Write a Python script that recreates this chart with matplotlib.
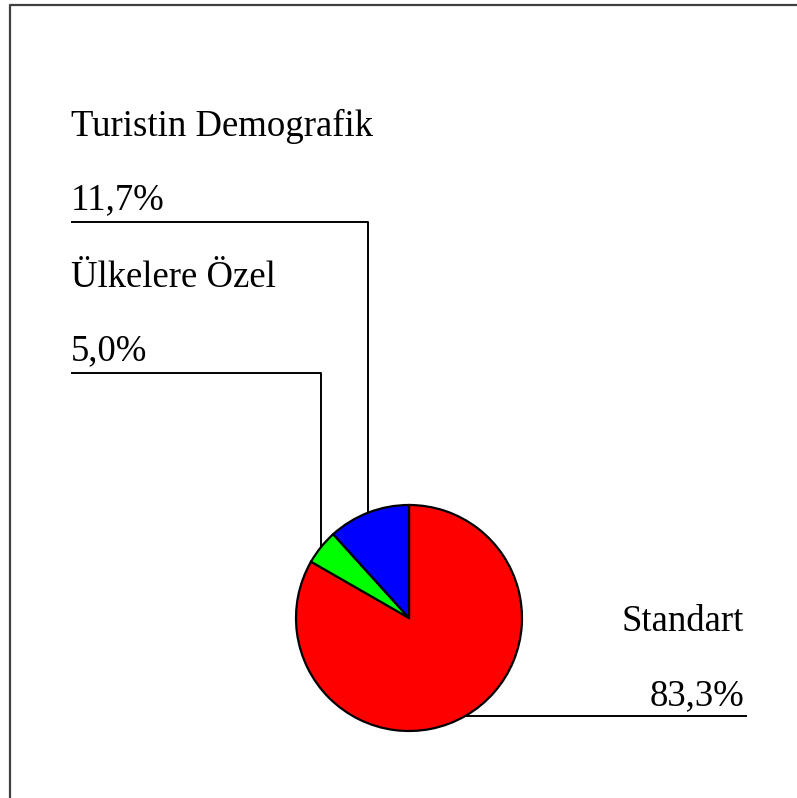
import numpy as np
import matplotlib
matplotlib.use("Agg")
import matplotlib.pyplot as plt

# ── Data ─────────────────────────────────────────────────────────────────────
labels = ["Standart", "Ülkelere Özel", "Turistin Demografik"]
values = [83.3, 5.0, 11.7]
pct_text = ["83,3%", "5,0%", "11,7%"]
colors = ["#ff0000", "#00ff00", "#0000ff"]

W, H = 797, 798
plt.rcParams['font.family'] = ['Liberation Serif', 'DejaVu Serif']

fig = plt.figure(figsize=(W / 100, H / 100), dpi=100)
ax = fig.add_axes([0, 0, 1, 1])

cx, cy, r = 409, H - 618, 113
wedges, _ = ax.pie(values, colors=colors, startangle=90, counterclock=False,
                   center=(cx, cy), radius=r, frame=True,
                   wedgeprops=dict(edgecolor='black', linewidth=1.6))
ax.set_xlim(0, W)
ax.set_ylim(0, H)
ax.set_aspect('auto')
ax.axis('off')

# ── Leader lines + labels ────────────────────────────────────────────────────
fs = 26.5
lw = 1.4
for i, w in enumerate(wedges):
    mid = np.deg2rad((w.theta1 + w.theta2) / 2)
    px = cx + r * np.cos(mid)
    py = cy + r * np.sin(mid)
    if i == 0:
        # right side: horizontal straight out
        ly = py
        ax.plot([px, 746], [ly, ly], color='black', lw=lw)
        ax.text(744, ly + 11, pct_text[i], fontsize=fs, ha='right', va='baseline')
        ax.text(744, ly + 85, labels[i], fontsize=fs, ha='right', va='baseline')
    else:
        ly = H - (373 if i == 1 else 222)
        ax.plot([px, px, 72], [py, ly, ly], color='black', lw=lw)
        ax.text(71, ly + 13, pct_text[i], fontsize=fs, ha='left', va='baseline')
        ax.text(71, ly + 86, labels[i], fontsize=fs, ha='left', va='baseline')

# ── Outer frame (top and left only) ──────────────────────────────────────────
ax.plot([10.5, 10.5, W], [0, H - 5, H - 5], color='#404040', lw=1.6)

fig.savefig("out.png", dpi=100)
